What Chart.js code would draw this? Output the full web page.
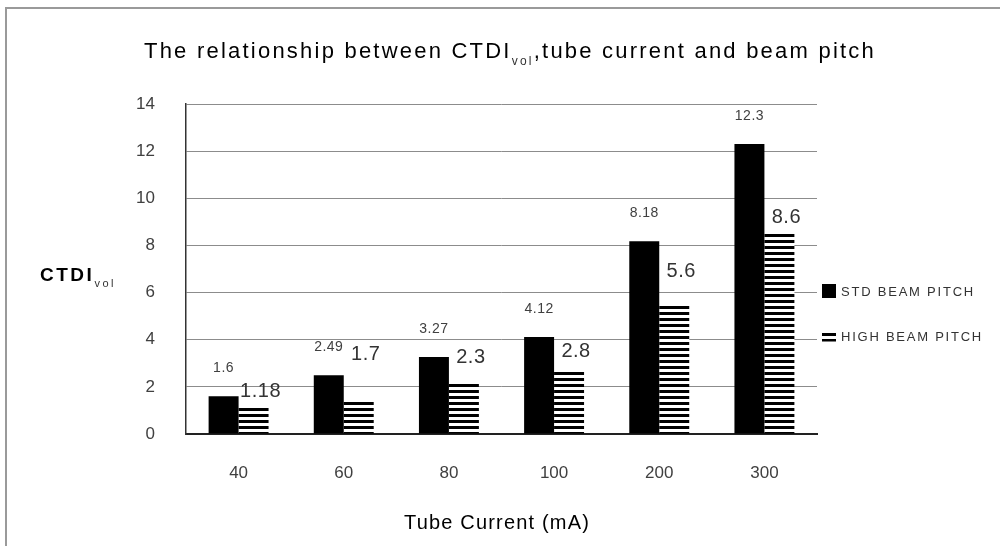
<!DOCTYPE html>
<html>
<head>
<meta charset="utf-8">
<script src="https://cdn.jsdelivr.net/npm/chart.js@4.4.1/dist/chart.umd.min.js"></script>
<style>
  html, body { margin: 0; padding: 0; background: #fff; }
  #wrap { width: 1000px; height: 546px; }
</style>
</head>
<body>
<div id="wrap"><canvas id="ctdiChart" width="1000" height="546"></canvas></div>
<script>
// data
const tubeCurrent = ['40', '60', '80', '100', '200', '300'];
const stdPitch = [1.6, 2.49, 3.27, 4.12, 8.18, 12.3];
const highPitch = [1.16, 1.47, 2.18, 2.76, 5.52, 8.6];
const highPitchLabels = ['1.18', '1.7', '2.3', '2.8', '5.6', '8.6'];
const yTicks = [0, 2, 4, 6, 8, 10, 12, 14];

// the value labels of the high series were placed by hand, so each one has its own lift (px)
const highLabelLift = [15, 45, 25, 17, 32, 14];

const FONT = '"Liberation Sans", Arial, sans-serif';

document.addEventListener('DOMContentLoaded', () => {
    const canvas = document.getElementById('ctdiChart');
    const ctx2d = canvas.getContext('2d');

    // horizontal stripes for the high beam pitch bars
    function stripes() {
        const c = document.createElement('canvas');
        c.width = 6; c.height = 6;
        const g = c.getContext('2d');
        g.fillStyle = '#fff';
        g.fillRect(0, 0, 6, 6);
        g.fillStyle = '#000';
        g.fillRect(0, 0, 6, 3);
        return ctx2d.createPattern(c, 'repeat');
    }

    // draws text pieces in a row, stretched by letter spacing to a given width
    function drawParts(ctx, parts, x, y, width) {
        ctx.save();
        ctx.textBaseline = 'alphabetic';
        ctx.textAlign = 'left';
        ctx.letterSpacing = '0px';
        let natural = 0, chars = 0;
        parts.forEach(p => {
            ctx.font = p.font;
            natural += ctx.measureText(p.text).width;
            chars += p.text.length;
        });
        const extra = width ? Math.max(0, (width - natural) / chars) : 0;
        ctx.letterSpacing = extra + 'px';
        let cx = x;
        parts.forEach(p => {
            ctx.font = p.font;
            ctx.fillStyle = p.color || '#000';
            ctx.fillText(p.text, cx, y + (p.dy || 0));
            cx += ctx.measureText(p.text).width;
        });
        ctx.restore();
    }

    const decor = {
        id: 'decor',
        beforeDraw(chart) {
            const ctx = chart.ctx;
            ctx.save();
            ctx.fillStyle = '#fff';
            ctx.fillRect(0, 0, chart.width, chart.height);
            ctx.strokeStyle = '#9a9a9a';
            ctx.lineWidth = 2;
            ctx.beginPath();
            ctx.moveTo(6, chart.height);
            ctx.lineTo(6, 8);
            ctx.lineTo(chart.width, 8);
            ctx.stroke();
            ctx.restore();
        },
        afterDraw(chart) {
            const ctx = chart.ctx;

            // title with subscript
            drawParts(ctx, [
                { text: 'The relationship between CTDI', font: '22px ' + FONT },
                { text: 'vol', font: '12px ' + FONT, dy: 7, color: '#333' },
                { text: ',tube current and beam pitch', font: '22px ' + FONT }
            ], 144, 58, 732);

            // y axis title
            drawParts(ctx, [
                { text: 'CTDI', font: 'bold 19px ' + FONT },
                { text: 'vol', font: '11px ' + FONT, dy: 6, color: '#333' }
            ], 40, 281, 76);

            // x axis title
            drawParts(ctx, [
                { text: 'Tube Current (mA)', font: '20px ' + FONT }
            ], 404, 529, 186);

            // legend
            ctx.save();
            ctx.fillStyle = '#000';
            ctx.fillRect(822, 284, 14, 14);
            ctx.fillRect(822, 333, 14, 3);
            ctx.fillRect(822, 339, 14, 2.5);
            ctx.restore();
            drawParts(ctx, [{ text: chart.data.datasets[0].label, font: '13px ' + FONT, color: '#333' }], 841, 296, 134);
            drawParts(ctx, [{ text: chart.data.datasets[1].label, font: '13px ' + FONT, color: '#333' }], 841, 341, 142);

            // value labels
            ctx.save();
            ctx.textAlign = 'center';
            ctx.textBaseline = 'middle';
            ctx.letterSpacing = '0.5px';
            const stdMeta = chart.getDatasetMeta(0);
            const highMeta = chart.getDatasetMeta(1);
            ctx.font = '14px ' + FONT;
            ctx.fillStyle = '#404040';
            stdMeta.data.forEach((bar, i) => {
                ctx.fillText(String(stdPitch[i]), bar.x, bar.y - 28);
            });
            ctx.font = '20px ' + FONT;
            ctx.fillStyle = '#333';
            highMeta.data.forEach((bar, i) => {
                ctx.fillText(highPitchLabels[i], bar.x + 7, bar.y - highLabelLift[i]);
            });
            ctx.restore();
        }
    };

    new Chart(canvas, {
        type: 'bar',
        data: {
            labels: tubeCurrent,
            datasets: [
                { label: 'STD BEAM PITCH', data: stdPitch, backgroundColor: '#000' },
                { label: 'HIGH BEAM PITCH', data: highPitch, backgroundColor: stripes() }
            ]
        },
        options: {
            responsive: false,
            animation: false,
            layout: { padding: { top: 104, right: 183, left: 0, bottom: 0 } },
            datasets: { bar: { categoryPercentage: 0.57, barPercentage: 1.0 } },
            plugins: {
                legend: { display: false },
                title: { display: false },
                tooltip: { enabled: false }
            },
            scales: {
                x: {
                    grid: { display: false, drawTicks: false },
                    border: { color: '#222', width: 2 },
                    ticks: { padding: 29, color: '#404040', font: { family: FONT, size: 17 } },
                    afterFit: s => { s.height = 112; }
                },
                y: {
                    min: 0,
                    max: 14,
                    afterBuildTicks: s => { s.ticks = yTicks.map(v => ({ value: v })); },
                    grid: { color: '#8c8c8c', lineWidth: 1, drawTicks: false },
                    border: { color: '#333', width: 1.5 },
                    ticks: { padding: 31, color: '#404040', font: { family: FONT, size: 17 } },
                    afterFit: s => { s.width = 186; }
                }
            }
        },
        plugins: [decor]
    });
});
</script>
</body>
</html>
